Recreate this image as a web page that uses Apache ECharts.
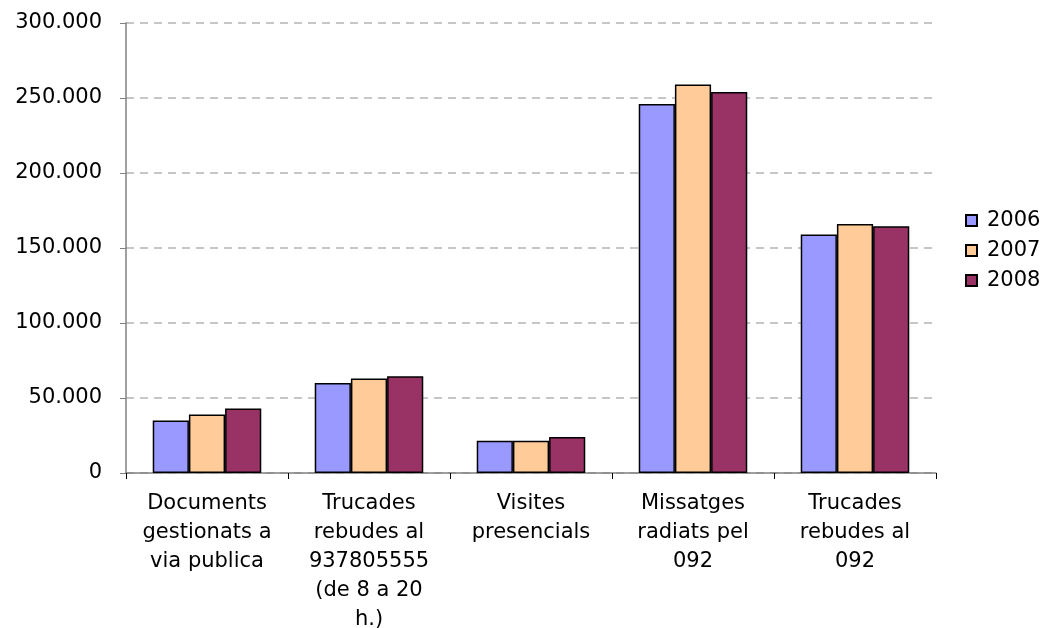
<!DOCTYPE html>
<html>
<head>
<meta charset="utf-8">
<script src="https://cdn.jsdelivr.net/npm/echarts@6/dist/echarts.min.js"></script>
<style>
  html, body { margin: 0; padding: 0; background: #fff; }
  #chart { width: 1043px; height: 628px; }
</style>
</head>
<body>
<div id="chart"></div>
<script>
// categories (x axis)
const categories = [
  'Documents\ngestionats a\nvia publica',
  'Trucades\nrebudes al\n937805555\n(de 8 a 20\nh.)',
  'Visites\npresencials',
  'Missatges\nradiats pel\n092',
  'Trucades\nrebudes al\n092'
]
const years = ['2006', '2007', '2008']
// values
const values2006 = [35000, 60000, 21500, 246000, 159000]
const values2007 = [39000, 63000, 21500, 259000, 166000]
const values2008 = [43000, 64500, 24000, 254000, 164500]
const colors = ['#9999FF', '#FFCC99', '#993366']

const font = 'Verdana, DejaVu Sans, sans-serif'

const chart = echarts.init(document.getElementById('chart'))

// 300000 -> "300.000"
function fmt (v) {
  return String(v).replace(/\B(?=(\d{3})+(?!\d))/g, '.')
}

const seriesData = [values2006, values2007, values2008]

const option = {
  animation: false,
  backgroundColor: '#ffffff',
  grid: { left: 126, right: 107, top: 23, bottom: 155, outerBoundsMode: 'none', containLabel: false },
  legend: {
    orient: 'vertical',
    left: 960,
    top: 205,
    icon: 'rect',
    itemWidth: 11,
    itemHeight: 11,
    itemGap: 9,
    data: years,
    textStyle: { fontFamily: font, fontSize: 21, color: '#000', padding: [0, 0, 0, 5] }
  },
  xAxis: {
    type: 'category',
    data: categories,
    axisLine: { lineStyle: { color: '#808080', width: 1.5 } },
    axisTick: { show: true, length: 6, lineStyle: { color: '#000' } },
    axisLabel: {
      interval: 0,
      margin: 16,
      fontFamily: font,
      fontSize: 21,
      lineHeight: 29,
      color: '#000'
    }
  },
  yAxis: {
    type: 'value',
    min: 0,
    max: 300000,
    interval: 50000,
    axisLine: { show: true, lineStyle: { color: '#808080', width: 1.5 } },
    axisTick: { show: true, length: 6, lineStyle: { color: '#808080' } },
    splitLine: { lineStyle: { color: '#b4b4b4', type: [8, 6], width: 1.5 } },
    axisLabel: {
      margin: 24,
      fontFamily: font,
      fontSize: 21,
      color: '#000',
      formatter: fmt
    }
  },
  series: years.map((y, i) => ({
    name: y,
    type: 'bar',
    data: seriesData[i],
    barGap: '0%',
    barCategoryGap: '33%',
    itemStyle: { color: colors[i], borderColor: '#000', borderWidth: 1.5 }
  }))
}

chart.setOption(option)
</script>
</body>
</html>
